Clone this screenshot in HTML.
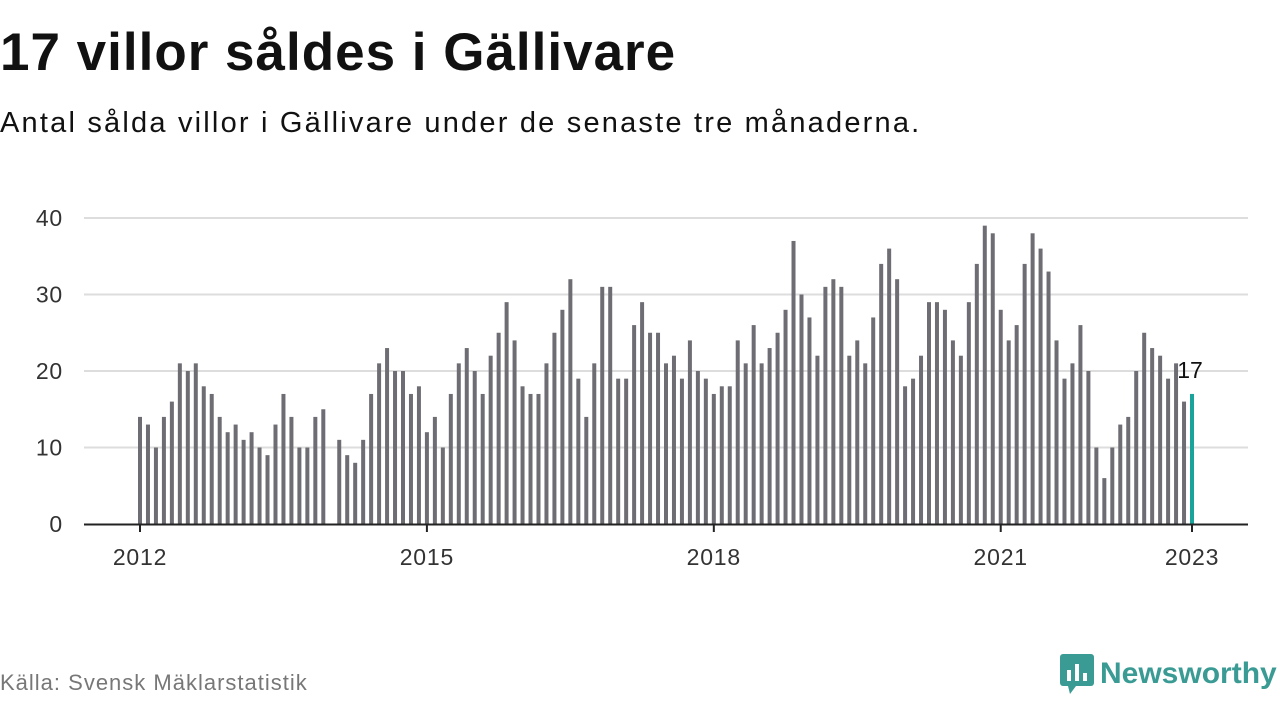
<!DOCTYPE html>
<html><head><meta charset="utf-8"><style>
body{margin:0;width:1280px;height:720px;background:#fff;font-family:"Liberation Sans",sans-serif;overflow:hidden;position:relative}
h1{position:absolute;left:0;top:22px;margin:0;font-size:53px;font-weight:bold;color:#111;letter-spacing:1px}
.sub{position:absolute;left:0;top:107px;font-size:29px;color:#111;letter-spacing:2.2px}
.src{position:absolute;left:0;top:670px;font-size:22px;color:#777;letter-spacing:1px}
.logo{position:absolute;left:1060px;top:654px;display:flex;align-items:center;font-size:30px;font-weight:bold;color:#3a9b94}
</style></head><body>
<h1>17 villor såldes i Gällivare</h1>
<div class="sub">Antal sålda villor i Gällivare under de senaste tre månaderna.</div>
<svg id="chart" width="1280" height="720" style="position:absolute;left:0;top:0"></svg>
<div class="src">Källa: Svensk Mäklarstatistik</div>
<div class="logo"><svg width="34" height="40" viewBox="0 0 34 40"><rect x="0" y="0" width="34" height="32" rx="3" fill="#3a9b94"/><polygon points="8,32 16,32 10,40" fill="#3a9b94"/><rect x="7" y="16" width="4" height="11" fill="#fff"/><rect x="15" y="10" width="4" height="17" fill="#fff"/><rect x="23" y="19" width="4" height="8" fill="#fff"/></svg><span style="margin-left:6px">Newsworthy</span></div>
<script>
const startYear = 2012;
const values = [
14,13,10,14,16,21,20,21,18,17,14,12,
13,11,12,10,9,13,17,14,10,10,14,15,
0,11,9,8,11,17,21,23,20,20,17,18,
12,14,10,17,21,23,20,17,22,25,29,24,
18,17,17,21,25,28,32,19,14,21,31,31,
19,19,26,29,25,25,21,22,19,24,20,19,
17,18,18,24,21,26,21,23,25,28,37,30,
27,22,31,32,31,22,24,21,27,34,36,32,
18,19,22,29,29,28,24,22,29,34,39,38,
28,24,26,34,38,36,33,24,19,21,26,20,
10,6,10,13,14,20,25,23,22,19,21,16,
17];
const yTicks = [0,10,20,30,40];
const xTickYears = [2012,2015,2018,2021,2023];
const NS='http://www.w3.org/2000/svg';
const svg=document.getElementById('chart');
const x0=140, perMonth=(1192-140)/132, yBase=524, perUnit=(524-218)/40;
const xs=m=>x0+m*perMonth;
const ys=v=>yBase-v*perUnit;
function mk(t,a){const e=document.createElementNS(NS,t);for(const k in a)e.setAttribute(k,a[k]);svg.appendChild(e);return e;}
yTicks.forEach(t=>{
  if(t>0){const l=mk('line',{x1:84,x2:1248,y1:ys(t),y2:ys(t),stroke:'#ddd','stroke-width':2});
  
  }
  const tx=mk('text',{x:63,y:ys(t)+8,'text-anchor':'end','font-size':23,'letter-spacing':0.8,fill:'#333','font-family':'Liberation Sans, sans-serif'});
  tx.textContent=t;
  
  
});
values.forEach((v,i)=>{
  const last=i===values.length-1;
  const r=mk('rect',{x:xs(i)-2,y:ys(v),width:4,height:v*perUnit,fill:last?'#1aa39a':'#6e6d73'});
  
  
});
const ax=mk('line',{x1:84,x2:1248,y1:yBase+0.5,y2:yBase+0.5,stroke:'#222','stroke-width':2});


xTickYears.forEach(yr=>{
  const x=xs((yr-startYear)*12);
  const tk=mk('line',{x1:x,x2:x,y1:yBase,y2:yBase+8,stroke:'#222','stroke-width':2});
  
  
  const t=mk('text',{x:x,y:yBase+41,'text-anchor':'middle','font-size':23,'letter-spacing':0.8,fill:'#333','font-family':'Liberation Sans, sans-serif'});
  t.textContent=yr;
  
  
});
const li=values.length-1;
const lab=mk('text',{x:xs(li)-2,y:ys(values[li])-16,'text-anchor':'middle','font-size':23,fill:'#111','font-family':'Liberation Sans, sans-serif'});
lab.textContent=values[li];


</script>
</body></html>
